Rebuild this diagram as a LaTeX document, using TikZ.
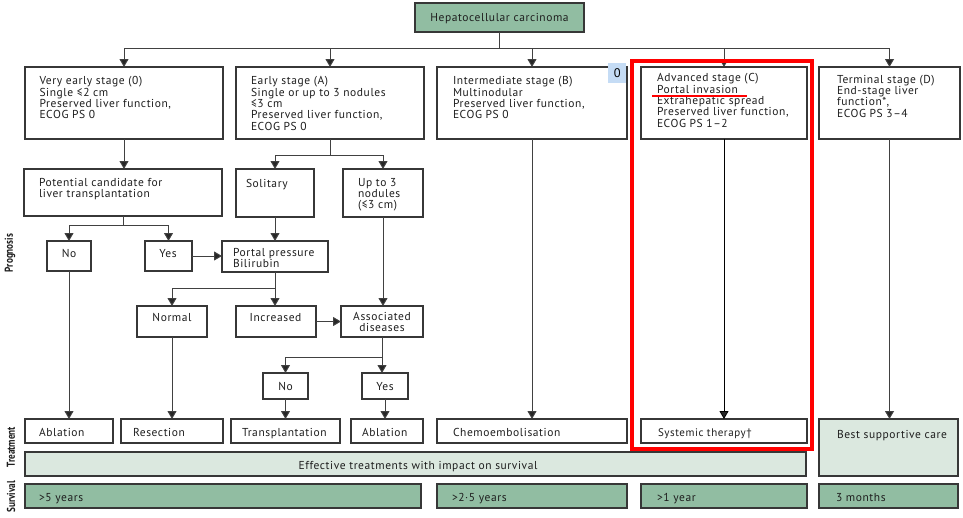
\documentclass[tikz,border=0pt]{standalone}
\usepackage{fontspec}
\setmainfont{PT Sans}[LetterSpace=5]
\newfontfamily\labfont{PT Sans}
\usetikzlibrary{arrows.meta,calc}
\definecolor{dkgreen}{RGB}{145,189,162}
\definecolor{ltgreen}{RGB}{219,232,223}
\definecolor{bordc}{RGB}{55,55,55}
\definecolor{linec}{RGB}{65,65,65}
\definecolor{txtc}{RGB}{30,30,30}
\definecolor{zeroblue}{RGB}{197,220,245}
\definecolor{redmk}{RGB}{255,0,0}
\begin{document}
\begin{tikzpicture}[x=1pt,y=-1pt,
  box/.style={draw=bordc, line width=1.1pt, fill=white, anchor=north west, inner sep=0pt, outer sep=0pt},
  txt/.style={anchor=north west, inner sep=0pt, outer sep=0pt, align=left, text=txtc,
    font=\fontsize{11.5}{11.4}\selectfont, execute at begin node={\rule{0pt}{9pt}}},
  ctxt/.style={txt, anchor=north, align=center},
  lab/.style={inner sep=0pt, text=txtc, font=\labfont\fontsize{11.5}{12}\selectfont\bfseries},
  conn/.style={draw=linec, line width=1pt},
  arr/.style={conn, -{Triangle[width=9pt,length=8pt,fill=black!85]}},
  redmark/.style={draw=redmk, line width=3.5pt}]
\useasboundingbox[fill=white] (0,0) rectangle (963,517);

% top
\node[box, fill=dkgreen, minimum width=169, minimum height=29] (hcc) at (415,3) {};
\node[ctxt] (hcct) at (499.5,12.5) {Hepatocellular carcinoma};

% stage boxes
\node[box, minimum width=198, minimum height=72] (s0) at (25,67) {};
\node[box, minimum width=188, minimum height=72] (sA) at (236,67) {};
\node[box, minimum width=190, minimum height=72] (sB) at (437,67) {};
\node[box, minimum width=166, minimum height=72] (sC) at (641,67) {};
\node[box, minimum width=141, minimum height=72] (sD) at (819,67) {};
\node[txt] (s0t) at (39.5,76.5) {Very early stage (0)\\Single ≤2 cm\\Preserved liver function,\\ECOG PS 0};
\node[txt] (sAt) at (251,76.5) {Early stage (A)\\Single or up to 3 nodules\\≤3 cm\\Preserved liver function,\\ECOG PS 0};
\node[txt] (sBt) at (453,76.5) {Intermediate stage (B)\\Multinodular\\Preserved liver function,\\ECOG PS 0};
\node[txt] (sCt) at (657,73.5) {Advanced stage (C)\\Portal invasion\\Extrahepatic spread\\Preserved liver function,\\ECOG PS 1–2};
\node[txt] (sDt) at (837,75) {Terminal stage (D)\\End-stage liver\\function*,\\ECOG PS 3–4};

% marker 0
\node[fill=zeroblue, anchor=north west, inner sep=0pt, minimum width=18, minimum height=20] (zero) at (608,63) {\labfont\fontsize{12.5}{13}\selectfont 0};

% second level
\node[box, minimum width=198, minimum height=47] (cand) at (24,169) {};
\node[box, minimum width=78, minimum height=48] (sol) at (236,169) {};
\node[box, minimum width=80, minimum height=48] (up3) at (343,169) {};
\node[txt] (candt) at (39,178) {Potential candidate for\\liver transplantation};
\node[txt] (solt) at (246,178) {Solitary};
\node[txt] (up3t) at (358,178) {Up to 3\\nodules\\(≤3 cm)};

\node[box, minimum width=44, minimum height=30] (no1) at (47,241) {};
\node[box, minimum width=47, minimum height=30] (yes1) at (145,241) {};
\node[box, minimum width=106, minimum height=31] (portal) at (222,241) {};
\node[ctxt] (no1t) at (69,248) {No};
\node[ctxt] (yes1t) at (168,248) {Yes};
\node[txt] (portalt) at (233,248) {Portal pressure\\Bilirubin};

\node[box, minimum width=70, minimum height=31] (normal) at (137,306) {};
\node[box, minimum width=80, minimum height=31] (incr) at (236,306) {};
\node[box, minimum width=82, minimum height=31] (assoc) at (341,306) {};
\node[ctxt] (normalt) at (172,312) {Normal};
\node[ctxt] (incrt) at (275.5,312) {Increased};
\node[ctxt] (assoct) at (382,312) {Associated\\diseases};

\node[box, minimum width=45, minimum height=26] (no2) at (263,373) {};
\node[box, minimum width=46, minimum height=26] (yes2) at (362,373) {};
\node[ctxt] (no2t) at (285.5,381.5) {No};
\node[ctxt] (yes2t) at (385,381.5) {Yes};

% treatment row
\node[box, minimum width=88, minimum height=24] (abl1) at (25,419) {};
\node[box, minimum width=102, minimum height=24] (resec) at (121,419) {};
\node[box, minimum width=109, minimum height=24] (trans) at (231,419) {};
\node[box, minimum width=72, minimum height=24] (abl2) at (351,419) {};
\node[box, minimum width=190, minimum height=24] (chemo) at (437,419) {};
\node[box, minimum width=166, minimum height=24] (syst) at (641,419) {};
\node[box, fill=ltgreen, minimum width=139, minimum height=57] (bsc) at (819,419) {};
\node[txt] (abl1t) at (39,427) {Ablation};
\node[txt] (resect) at (133,427) {Resection};
\node[txt] (transt) at (242,427) {Transplantation};
\node[txt] (abl2t) at (362,427) {Ablation};
\node[txt] (chemot) at (453,427) {Chemoembolisation};
\node[txt, font=\fontsize{11}{11.4}\selectfont] (systt) at (658,427) {Systemic therapy†};
\node[txt] (bsct) at (837,429) {Best supportive care};

\node[box, fill=ltgreen, minimum width=781, minimum height=24] (eff) at (25,452) {};
\node[ctxt] (efft) at (418,460) {Effective treatments with impact on survival};

% survival row
\node[box, fill=dkgreen, minimum width=396, minimum height=24] (sv1) at (25,484) {};
\node[box, fill=dkgreen, minimum width=190, minimum height=24] (sv2) at (437,484) {};
\node[box, fill=dkgreen, minimum width=166, minimum height=24] (sv3) at (641,484) {};
\node[box, fill=dkgreen, minimum width=139, minimum height=24] (sv4) at (819,484) {};
\node[txt] (sv1t) at (39,492) {>5 years};
\node[txt] (sv2t) at (452,492) {>2·5 years};
\node[txt] (sv3t) at (657,492) {>1 year};
\node[txt] (sv4t) at (836,492) {3 months};

% side labels
\node[lab, rotate=90] (lprog) at (10,253) {\scalebox{0.8}[1]{Prognosis}};
\node[lab, rotate=90] (ltreat) at (11,447) {\scalebox{0.8}[1]{Treatment}};
\node[lab, rotate=90] (lsurv) at (11,497) {\scalebox{0.8}[1]{Survival}};

% connectors top
\coordinate (bus) at (500,48);
\draw[conn] (hcc.south) -- (hcc.south |- bus);
\draw[conn] (s0.north |- bus) -- (sD.north |- bus);
\foreach \s in {s0,sA,sB,sC,sD} \draw[arr] (\s.north |- bus) -- (\s.north);

\draw[arr] (s0.south) -- (s0.south |- cand.north);

\coordinate (busA) at (0,155);
\draw[conn] (sA.south) -- (sA.south |- busA);
\draw[conn] (sol.north |- busA) -- (up3.north |- busA);
\draw[arr] (sol.north |- busA) -- (sol.north);
\draw[arr] (up3.north |- busA) -- (up3.north);

\coordinate (busC) at (0,225);
\draw[conn] (cand.south) -- (cand.south |- busC);
\draw[conn] (no1.north |- busC) -- (yes1.north |- busC);
\draw[arr] (no1.north |- busC) -- (no1.north);
\draw[arr] (yes1.north |- busC) -- (yes1.north);

\draw[arr] (yes1.east) -- (yes1.east -| portal.west);
\draw[arr] (sol.south) -- (sol.south |- portal.north);

\coordinate (busP) at (0,288);
\draw[conn] (portal.south) -- (portal.south |- busP);
\draw[conn] (normal.north |- busP) -- (portal.south |- busP);
\draw[arr] (normal.north |- busP) -- (normal.north);
\draw[arr] (portal.south |- busP) -- (portal.south |- incr.north);

\draw[arr] (incr.east) -- (incr.east -| assoc.west);
\draw[arr] (up3.south) -- (up3.south |- assoc.north);

\coordinate (busD) at (0,357);
\draw[conn] (assoc.south) -- (assoc.south |- busD);
\draw[conn] (no2.north |- busD) -- (assoc.south |- busD);
\draw[arr] (no2.north |- busD) -- (no2.north);
\draw[arr] (assoc.south |- busD) -- (assoc.south |- yes2.north);

\draw[arr] (no2.south) -- (no2.south |- trans.north);
\draw[arr] (yes2.south) -- (yes2.south |- abl2.north);
\draw[arr] (no1.south) -- (no1.south |- abl1.north);
\draw[arr] (normal.south) -- (normal.south |- resec.north);
\draw[arr] (sB.south) -- (sB.south |- chemo.north);
\draw[arr, draw=black, line width=0.8pt] (sC.south) -- (sC.south |- syst.north);
\draw[arr] (sD.south) -- (sD.south |- bsc.north);

% red annotation
\draw[redmark] (632,61) rectangle (812,449);
\draw[draw=redmk, line width=2pt] (652,96) -- (747,96);
\end{tikzpicture}
\end{document}
